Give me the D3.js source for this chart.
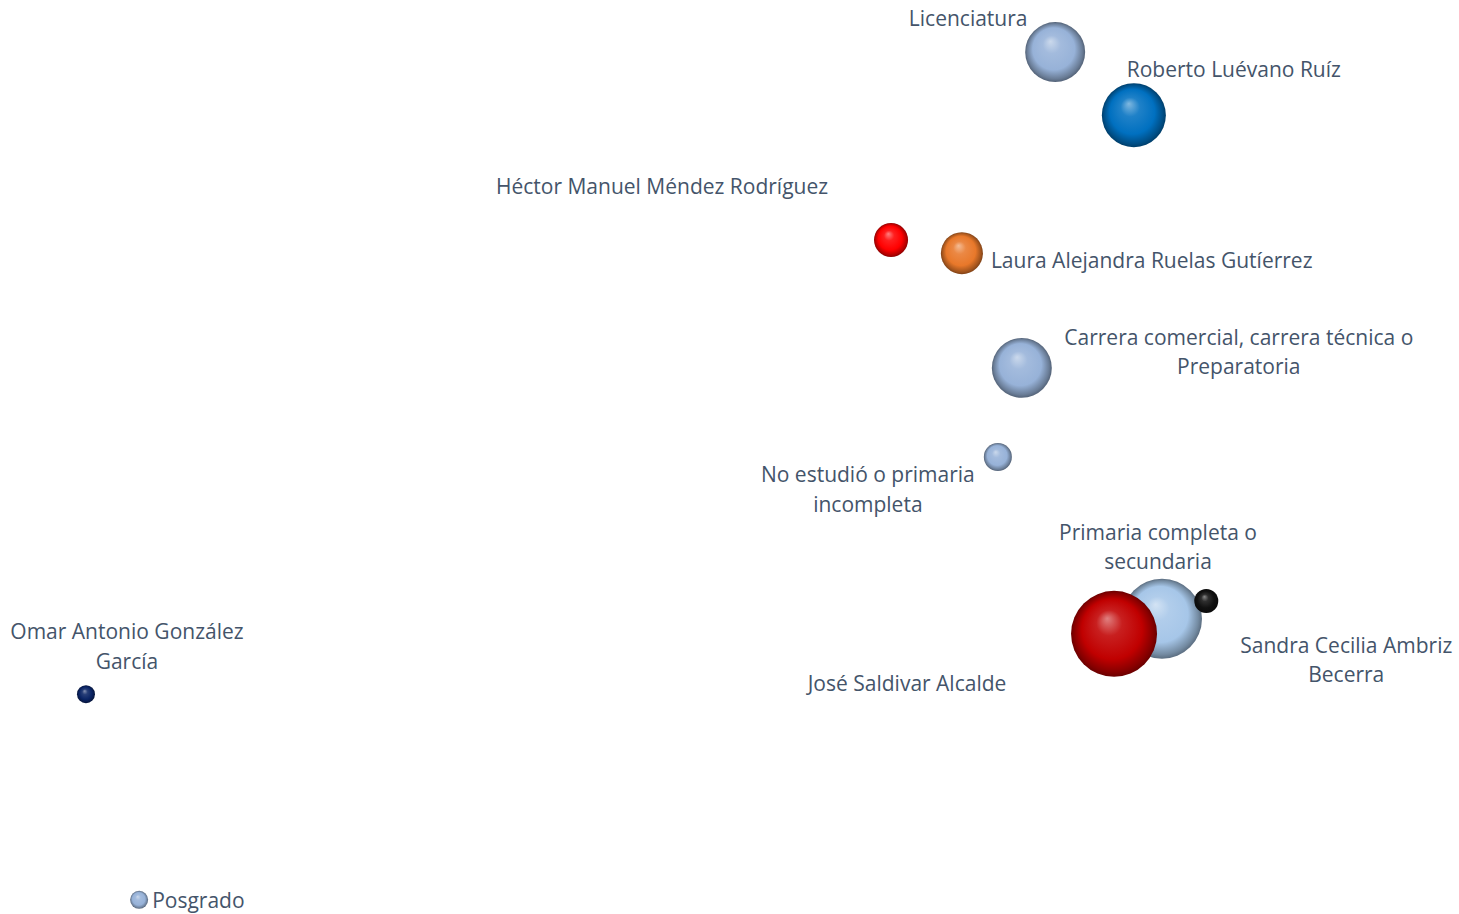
<!DOCTYPE html>
<html>
<head>
<meta charset="utf-8">
<script src="https://cdn.jsdelivr.net/npm/d3@7"></script>
<style>
  html, body { margin: 0; padding: 0; background: #fff; }
  svg { display: block; }
  text { font-family: "Open Sans", "Noto Sans", sans-serif; fill: #44546A; }
</style>
</head>
<body>
<svg id="chart" width="1459" height="914"></svg>
<script>
// ---- data ----
const names = [
  "Licenciatura",
  "Carrera comercial, carrera técnica o|Preparatoria",
  "No estudió o primaria|incompleta",
  "Primaria completa o|secundaria",
  "Posgrado",
  "Roberto Luévano Ruíz",
  "Héctor Manuel Méndez Rodríguez",
  "Laura Alejandra Ruelas Gutíerrez",
  "José Saldivar Alcalde",
  "Sandra Cecilia Ambriz|Becerra",
  "Omar Antonio González|García"
];
const xValues = [0.025, -0.039, -0.085, 0.230, -1.733, 0.176, -0.290, -0.154, 0.138, 0.315, -1.835];
const yValues = [0.886, 0.195, 0.000, -0.354, -0.969, 0.748, 0.475, 0.446, -0.387, -0.315, -0.519];
const sizes   = [44.4, 44.4, 9.7, 79.0, 4.0, 50.6, 14.3, 21.8, 91.3, 7.1, 4.0];
const colors  = ["#97B2D8", "#97B2D8", "#97B2D8", "#A6C6E8", "#97B2D8", "#0070C0", "#FF0000", "#E8782A", "#C00000", "#111111", "#0A2465"];

// ---- label layout (placement relative to each bubble) ----
const labelLayout = [
  {dx: -87, dy: -34, anchor: "middle"},
  {dx: 217, dy: -31, anchor: "middle"},
  {dx: -130, dy: 17, anchor: "middle"},
  {dx: -4, dy: -87, anchor: "middle"},
  {dx: 13, dy: 0, anchor: "start"},
  {dx: 100, dy: -46, anchor: "middle"},
  {dx: -229, dy: -54, anchor: "middle"},
  {dx: 29, dy: 7, anchor: "start"},
  {dx: -207, dy: 49, anchor: "middle"},
  {dx: 140, dy: 44, anchor: "middle"},
  {dx: 41, dy: -63, anchor: "middle"}
];

const W = 1459, H = 914;
const svg = d3.select("#chart");
const x = d3.scaleLinear().domain([-2.0, 0.8]).range([0, W]);
const y = d3.scaleLinear().domain([-1.0, 1.0]).range([H, 0]);
const r = d3.scaleSqrt().domain([0, 100]).range([0, 45]);

const data = names.map((n, i) => ({
  name: n, x: xValues[i], y: yValues[i], s: sizes[i], c: colors[i], lab: labelLayout[i], i
}));

// gradients for 3D sphere look
const defs = svg.append("defs");
data.forEach(d => {
  const base = d3.color(d.c);
  const g = defs.append("radialGradient")
    .attr("id", "g" + d.i)
    .attr("cx", "50%").attr("cy", "50%").attr("r", "50%")
    .attr("fx", "42%").attr("fy", "32%");
  const light = d3.interpolateRgb(d.c, "#ffffff");
  const dark = d3.interpolateRgb(d.c, "#000000");
  g.append("stop").attr("offset", "0%").attr("stop-color", light(0.5));
  g.append("stop").attr("offset", "30%").attr("stop-color", light(0.12));
  g.append("stop").attr("offset", "70%").attr("stop-color", base.formatHex());
  g.append("stop").attr("offset", "92%").attr("stop-color", dark(0.3));
  g.append("stop").attr("offset", "100%").attr("stop-color", dark(0.45));
});

svg.append("g").selectAll("circle")
  .data(data)
  .join("circle")
  .attr("cx", d => x(d.x))
  .attr("cy", d => y(d.y))
  .attr("r", d => r(d.s))
  .attr("fill", d => `url(#g${d.i})`);

const lineH = 29.5;
const labels = svg.append("g").selectAll("text")
  .data(data)
  .join("text")
  .attr("x", d => x(d.x) + d.lab.dx)
  .attr("y", d => y(d.y) + d.lab.dy)
  .attr("text-anchor", d => d.lab.anchor)
  .attr("dominant-baseline", "central")
  .attr("font-size", 21);

labels.each(function(d) {
  const parts = d.name.split("|");
  d3.select(this).selectAll("tspan")
    .data(parts)
    .join("tspan")
    .attr("x", x(d.x) + d.lab.dx)
    .attr("dy", (p, k) => k === 0 ? 0 : lineH)
    .text(p => p);
});
</script>
</body>
</html>
